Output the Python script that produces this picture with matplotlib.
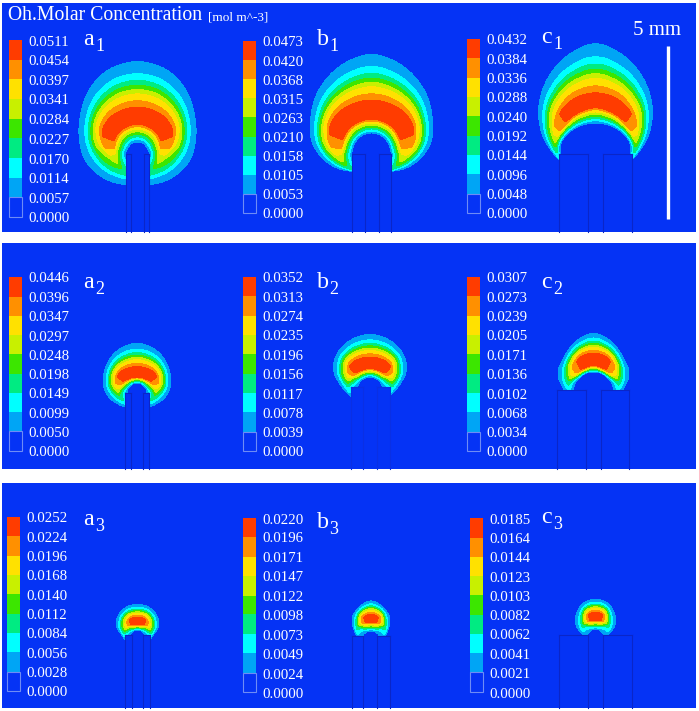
import numpy as np
import matplotlib
matplotlib.use("Agg")
import matplotlib.pyplot as plt
from matplotlib.patches import Rectangle

# colour bar values of every panel, top to bottom
ticks_a1 = [0.0511, 0.0454, 0.0397, 0.0341, 0.0284, 0.0227, 0.0170, 0.0114, 0.0057, 0.0000]
ticks_b1 = [0.0473, 0.0420, 0.0368, 0.0315, 0.0263, 0.0210, 0.0158, 0.0105, 0.0053, 0.0000]
ticks_c1 = [0.0432, 0.0384, 0.0336, 0.0288, 0.0240, 0.0192, 0.0144, 0.0096, 0.0048, 0.0000]
ticks_a2 = [0.0446, 0.0396, 0.0347, 0.0297, 0.0248, 0.0198, 0.0149, 0.0099, 0.0050, 0.0000]
ticks_b2 = [0.0352, 0.0313, 0.0274, 0.0235, 0.0196, 0.0156, 0.0117, 0.0078, 0.0039, 0.0000]
ticks_c2 = [0.0307, 0.0273, 0.0239, 0.0205, 0.0171, 0.0136, 0.0102, 0.0068, 0.0034, 0.0000]
ticks_a3 = [0.0252, 0.0224, 0.0196, 0.0168, 0.0140, 0.0112, 0.0084, 0.0056, 0.0028, 0.0000]
ticks_b3 = [0.0220, 0.0196, 0.0171, 0.0147, 0.0122, 0.0098, 0.0073, 0.0049, 0.0024, 0.0000]
ticks_c3 = [0.0185, 0.0164, 0.0144, 0.0123, 0.0103, 0.0082, 0.0062, 0.0041, 0.0021, 0.0000]

# plume: radius (px) from the dome centre at each angle from vertical
angles = [0, 20, 40, 60, 80, 100, 120, 140, 180]

a1_out = [90, 87, 78, 67, 60, 55, 48, 42, 33]
a1_ridge = [34, 34, 34, 33, 29, 25, 24, 24, 24]
a1_in = [8, 8, 9, 9, 10, 12, 13, 13, 13]
a1_peak = [1, 1, 1, .98, .88, .7, .6, .5, .4]

b1_out = [100, 93, 83, 71, 62, 49, 36, 25, 20]
b1_ridge = [42, 42, 42, 40, 36, 32, 28, 25, 20]
b1_in = [19, 19, 19, 19, 19, 20, 20, 20, 20]
b1_peak = [1, 1, 1, .98, .86, .65, .5, .4, .3]

c1_out = [125, 110, 88, 63, 38, 26, 22, 20, 18]
c1_ridge = [65, 62, 56, 47, 36, 24, 20, 18, 18]
c1_in = [42, 42, 42, 41, 34, 24, 20, 18, 18]
c1_peak = [1, 1, .92, .6, .3, .2, .2, .2, .2]

a2_out = [50, 48, 44, 39, 35, 30, 24, 20, 15]
a2_ridge = [20, 20, 21, 21, 20, 18, 16, 15, 14]
a2_in = [9, 9, 9, 9, 10, 10, 10, 10, 10]
a2_peak = [1, 1, 1, .9, .7, .5, .4, .3, .25]

b2_out = [57, 55, 51, 44, 31, 22, 18, 16, 14]
b2_ridge = [27, 27, 27, 25, 22, 20, 18, 16, 14]
b2_in = [13, 13, 13, 13, 13, 14, 14, 14, 14]
b2_peak = [1, 1, .98, .7, .4, .25, .2, .2, .2]

c2_out = [64, 57, 48, 43, 30, 22, 20, 18, 16]
c2_ridge = [36, 34, 31, 28, 25, 22, 20, 18, 16]
c2_in = [23, 23, 22, 22, 20, 18, 18, 18, 16]
c2_peak = [1, 1, .82, .5, .25, .2, .2, .2, .2]

a3_out = [35, 34, 31, 26, 16, 12, 10, 10, 10]
a3_ridge = [17, 17, 17, 15, 13, 12, 10, 10, 10]
a3_in = [8, 8, 8, 8, 8, 8, 8, 8, 8]
a3_peak = [1, 1, .78, .55, .3, .2, .2, .2, .2]

b3_out = [42, 37, 31, 19, 13, 11, 11, 11, 11]
b3_ridge = [23, 22, 20, 16, 12, 11, 11, 11, 11]
b3_in = [10, 10, 10, 10, 10, 10, 10, 10, 10]
b3_peak = [1, .95, .5, .3, .2, .2, .2, .2, .2]

c3_out = [39, 37.5, 31, 24, 12, 9, 9, 9, 9]
c3_ridge = [21, 20, 18, 15, 11, 9, 9, 9, 9]
c3_in = [8, 8, 8, 8, 8, 8, 8, 8, 8]
c3_peak = [1, .95, .55, .3, .2, .2, .2, .2, .2]

# share of the way from the core edge to the outer contour where each band ends
falloff_u = [0, .15, .3, .39, .48, .58, .72, 1]
falloff_f = [1, 6 / 7, 5 / 7, 4 / 7, 3 / 7, 2 / 7, 1 / 7, 0]

band_colors = ["#0533f5", "#00a5f5", "#00ffff", "#00eb82", "#3ce600",
               "#c8f000", "#ffe100", "#ff9000", "#ff3c00"]
BG = band_colors[0]
LINE = "#0a26c8"

# name, ticks, profiles, dome x/y, core half width, bar x/top/bottom, letter x/y, tube x, tube top/bottom
panels = [
    ("a", "1", ticks_a1, (a1_out, a1_ridge, a1_in, a1_peak), 137.5, 150, 8, 9, 40, 217, 83, 45, (126, 131, 144, 149), 154, 232),
    ("b", "1", ticks_b1, (b1_out, b1_ridge, b1_in, b1_peak), 371.5, 152, 9, 243, 41, 213, 317, 45, (352, 365, 379, 391), 154, 232),
    ("c", "1", ticks_c1, (c1_out, c1_ridge, c1_in, c1_peak), 595.5, 165, 7, 467, 39, 213, 541, 43, (559, 588, 603, 632), 154, 232),
    ("a", "2", ticks_a2, (a2_out, a2_ridge, a2_in, a2_peak), 137, 392, 5, 9, 277, 451, 83, 288, (125, 131, 143, 149), 393, 469),
    ("b", "2", ticks_b2, (b2_out, b2_ridge, b2_in, b2_peak), 370, 390, 5.5, 243, 277, 451, 317, 288, (351, 363, 377, 390), 387, 469),
    ("c", "2", ticks_c2, (c2_out, c2_ridge, c2_in, c2_peak), 593.5, 395, 6, 467, 277, 451, 541, 288, (557, 586, 601, 629), 390, 469),
    ("a", "3", ticks_a3, (a3_out, a3_ridge, a3_in, a3_peak), 137.5, 638, 3.5, 7, 517, 691, 83, 525, (125, 132, 143, 150), 635, 708),
    ("b", "3", ticks_b3, (b3_out, b3_ridge, b3_in, b3_peak), 371, 641, 4, 243, 518, 692, 317, 528, (352, 363, 377, 390), 636, 708),
    ("c", "3", ticks_c3, (c3_out, c3_ridge, c3_in, c3_peak), 595.5, 637, 4, 470, 518, 692, 541, 523, (559, 588, 603, 632), 635, 708),
]


def profile(th, values):
    # round off the corners of a read profile so the contours do not get kinks
    grid = np.arange(-180, 361)
    fine = np.interp(np.abs(((grid + 180) % 360) - 180), angles, values)
    fine = np.convolve(fine, np.ones(15) / 15, mode="same")
    return np.interp(th, grid, fine)


def soften(Z, n=7):
    # small box blur, the contours in the picture are soft
    kernel = np.ones(n) / n
    Z = np.apply_along_axis(lambda c: np.convolve(c, kernel, mode="same"), 0, Z)
    return np.apply_along_axis(lambda c: np.convolve(c, kernel, mode="same"), 1, Z)


def plume_field(X, Y, cx, cy, profiles, core):
    # normalised concentration, built from the radial profiles
    r_out, r_ridge, r_in, r_peak = profiles
    r = np.hypot(X - cx, Y - cy)
    th = np.degrees(np.arctan2(np.abs(X - cx), cy - Y))
    out = profile(th, r_out)
    ridge = profile(th, r_ridge)
    inner = profile(th, r_in)
    peak = profile(th, r_peak)
    hw = core * np.clip(peak * 2 - 1, 0, 1)
    hi = ridge + hw
    lo = np.maximum(ridge - hw, inner + 1)
    top = peak * 8 / 9
    Z = np.full(X.shape, peak * 0.95)
    above = r > hi
    u = (r - hi) / np.maximum(out - hi, 1)
    Z[above] = (1 / 9 + (top - 1 / 9) * np.interp(u, falloff_u, falloff_f, right=-1))[above]
    below = r < lo
    u = (lo - r) / np.maximum(lo - inner, 1)
    Z[below] = (1 / 9 + (top - 1 / 9) * (1 - u))[below]
    return soften(Z)


plt.rcParams["font.family"] = ["Liberation Serif", "DejaVu Serif"]
fig = plt.figure(figsize=(6.99, 7.11), dpi=100)
ax = fig.add_axes([0, 0, 1, 1])
ax.set_xlim(0, 699)
ax.set_ylim(711, 0)
ax.axis("off")

for top, bottom in [(3, 232), (243, 469), (483, 708)]:
    ax.add_patch(Rectangle((2, top), 694, bottom - top, fc=BG, ec="none", zorder=0))

for name, sub, ticks, profiles, cx, cy, core, bx, bt, bb, lx, ly, tube, tube_top, tube_bot in panels:
    x = np.linspace(cx - 110, cx + 100, 631)
    y = np.linspace(cy - 130, cy + 40, 511)
    X, Y = np.meshgrid(x, y)
    vmax = ticks[0]
    Z = plume_field(X, Y, cx, cy, profiles, core) * vmax
    levels = ticks[::-1][1:] + [vmax * 2]
    ax.contourf(X, Y, Z, levels=levels, colors=band_colors[1:], zorder=1)

    # electrode on top of the plume
    color = "#0a30e4" if name + sub == "b2" else LINE
    ax.add_patch(Rectangle((tube[0], tube_top), tube[3] - tube[0], tube_bot - tube_top,
                           fc=BG, ec="none", zorder=2))
    for tx in tube:
        ax.plot([tx, tx], [tube_top, tube_bot], color=color, lw=0.8, zorder=3)
    ax.plot([tube[0], tube[1]], [tube_top, tube_top], color=color, lw=0.8, zorder=3)
    ax.plot([tube[2], tube[3]], [tube_top, tube_top], color=color, lw=0.8, zorder=3)

    # colour bar
    vals = np.array(ticks[::-1])
    ypos = bb - vals / vmax * (bb - bt)
    ax.bar(np.full(9, bx), ypos[1:] - ypos[:-1], width=13, bottom=ypos[:-1], align="edge",
           color=band_colors, edgecolor="none", zorder=2)
    ax.add_patch(Rectangle((bx, ypos[1]), 13, ypos[0] - ypos[1], fc="none", ec="#6e8cf5", lw=0.8, zorder=3))
    for v, yp in zip(vals, ypos):
        ax.text(bx + 19, yp + 2, f"{v:.4f}", color="white", fontsize=10.7, va="center", ha="left", zorder=4)

    # panel letter
    ax.text(lx, ly, name, color="white", fontsize=17.3, va="baseline", zorder=4)
    ax.text(lx + 12, ly + 6, sub, color="white", fontsize=13, va="baseline", zorder=4)

ax.text(8, 20, "Oh.Molar Concentration", color="white", fontsize=14.2, va="baseline")
ax.text(208, 20, "[mol m^-3]", color="white", fontsize=9.5, va="baseline")
ax.text(633, 35, "5 mm", color="white", fontsize=15, va="baseline")
ax.plot([667.5, 667.5], [46, 219], color="white", lw=2.4, solid_capstyle="butt")

fig.savefig("out.png", dpi=100)
